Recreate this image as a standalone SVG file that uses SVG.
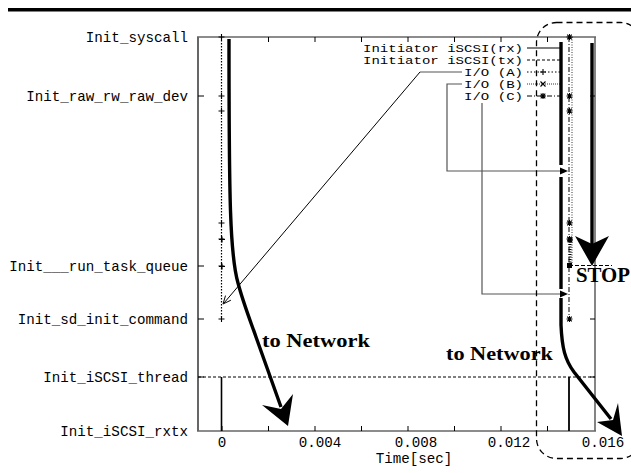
<svg xmlns="http://www.w3.org/2000/svg" width="631" height="473" viewBox="0 0 631 473">
<style>
.m{font-family:"Liberation Mono","DejaVu Sans Mono",monospace;font-size:14.2px;fill:#000}
.lg{font-family:"Liberation Mono","DejaVu Sans Mono",monospace;font-size:11.6px;fill:#000}
.b{font-family:"Liberation Serif","DejaVu Serif",serif;font-weight:bold;fill:#000}
.ax{stroke:#666;stroke-width:1.6;fill:none}
.tk{stroke:#000;stroke-width:1;fill:none}
.thick{stroke:#000;stroke-width:3.4;fill:none}
.lead{stroke:#555;stroke-width:1.2;fill:none}
.mk{stroke:#000;stroke-width:1.1;fill:none}
</style>
<defs>
<g id="plus"><path class="mk" d="M-3,0H3M0,-3V3"/></g>
<g id="cross"><path class="mk" d="M-2.5,-2.5L2.5,2.5M-2.5,2.5L2.5,-2.5"/></g>
<g id="star"><path class="mk" d="M-3,0H3M0,-3V3M-2.3,-2.3L2.3,2.3M-2.3,2.3L2.3,-2.3"/></g>
</defs>

<rect x="8" y="8" width="623" height="3.5" fill="#000"/>

<g id="axes">
<line x1="198" y1="37" x2="198" y2="431" stroke="#000" stroke-width="1.2"/>
<line class="ax" x1="197" y1="37" x2="596" y2="37"/>
<line class="ax" x1="197" y1="431" x2="596" y2="431"/>
<line class="ax" x1="595" y1="37" x2="595" y2="431"/>
<path class="tk" d="M198,96h6M198,266h6M198,319h6M198,377h6M595,96h-5M595,319h-5M595,377h-5"/>
<path class="tk" d="M268.5,37v5M315,37v5M361.5,37v5M408,37v5M454.5,37v5M501,37v5M547.5,37v5"/>
<path class="tk" d="M222,431v-5M268.5,431v-5M315,431v-5M361.5,431v-5M408,431v-5M454.5,431v-5M501,431v-5M547.5,431v-5"/>
</g>

<g id="ylabels" class="m" text-anchor="end">
<text x="188" y="42">Init_syscall</text>
<text x="188" y="101">Init_raw_rw_raw_dev</text>
<text x="188" y="271">Init___run_task_queue</text>
<text x="188" y="324">Init_sd_init_command</text>
<text x="188" y="382">Init_iSCSI_thread</text>
<text x="188" y="436">Init_iSCSI_rxtx</text>
</g>

<g id="xlabels" class="m" text-anchor="middle">
<text x="222" y="447">0</text>
<text x="320" y="447">0.004</text>
<text x="416" y="447">0.008</text>
<text x="509" y="447">0.012</text>
<text x="603" y="447">0.016</text>
<text x="414" y="463">Time[sec]</text>
</g>

<g id="legend">
<g class="lg">
<text x="363" y="52" textLength="160" lengthAdjust="spacingAndGlyphs">Initiator iSCSI(rx)</text>
<text x="363" y="64" textLength="160" lengthAdjust="spacingAndGlyphs">Initiator iSCSI(tx)</text>
<text x="464" y="76" textLength="59" lengthAdjust="spacingAndGlyphs">I/O (A)</text>
<text x="464" y="88" textLength="59" lengthAdjust="spacingAndGlyphs">I/O (B)</text>
<text x="464" y="100" textLength="59" lengthAdjust="spacingAndGlyphs">I/O (C)</text>
</g>
<line x1="527" y1="48" x2="560" y2="48" stroke="#000" stroke-width="1.2"/>
<line x1="527" y1="60" x2="560" y2="60" stroke="#000" stroke-width="1" stroke-dasharray="3,2"/>
<line x1="527" y1="72" x2="560" y2="72" stroke="#000" stroke-width="1" stroke-dasharray="1.5,2"/>
<line x1="527" y1="84" x2="560" y2="84" stroke="#000" stroke-width="0.8" stroke-dasharray="1,1"/>
<line x1="527" y1="96" x2="560" y2="96" stroke="#000" stroke-width="1" stroke-dasharray="5,2,1,2"/>
<use href="#plus" x="543" y="72"/>
<use href="#cross" x="543" y="84"/>
<use href="#star" x="543" y="96"/>
</g>

<g id="data">
<line x1="198" y1="377" x2="595" y2="377" stroke="#000" stroke-width="1" stroke-dasharray="3,2"/>
<line x1="221.5" y1="377" x2="221.5" y2="431" stroke="#000" stroke-width="1.6"/>
<line x1="569" y1="377" x2="569" y2="431" stroke="#000" stroke-width="1.8"/>
<line x1="221.5" y1="37" x2="221.5" y2="319" stroke="#000" stroke-width="1.2" stroke-dasharray="1.5,1.5"/>
<line x1="569" y1="37" x2="569" y2="319" stroke="#000" stroke-width="1" stroke-dasharray="5,2,1,2"/>
<line x1="572" y1="37" x2="572" y2="266" stroke="#000" stroke-width="0.8" stroke-dasharray="1,1.5"/>
<line x1="570" y1="239" x2="570" y2="266" stroke="#000" stroke-width="3" stroke-dasharray="1,1.5"/>
<use href="#plus" x="221.5" y="37"/><use href="#plus" x="221.5" y="96"/><use href="#plus" x="221.5" y="111"/>
<use href="#plus" x="221.5" y="223"/><use href="#plus" x="221.5" y="239"/><use href="#plus" x="222" y="239.5"/>
<use href="#plus" x="221.5" y="266"/><use href="#plus" x="222" y="266.5"/><use href="#plus" x="221.5" y="319"/>
<use href="#star" x="569.5" y="37"/><use href="#star" x="569.5" y="96"/><use href="#star" x="569.5" y="111"/>
<use href="#star" x="569.5" y="223"/><use href="#star" x="569.5" y="239"/><use href="#star" x="570" y="240"/>
<rect x="567" y="263" width="5" height="5" fill="#000"/>
<use href="#star" x="569.5" y="319"/>
</g>

<g id="connectors">
<path class="thick" stroke-width="4" d="M229,39 C229,200 230,255 238,283 C243,302 250,320 256,337 L281,407"/>
<polygon points="288,426 262,405 281,409 293,394" fill="#000"/>
<line class="thick" x1="561" y1="42" x2="561" y2="165"/>
<line class="thick" x1="561" y1="177" x2="561" y2="289"/>
<path class="thick" d="M561,298 L561,325 C562,348 565,360 574,372 L611,419"/>
<polygon points="622,436 597,422 613,420 618,403" fill="#000"/>
<line class="thick" x1="592" y1="43" x2="592" y2="246"/>
<polygon points="592,266 575,236 592,244 609,236" fill="#000"/>
<line x1="569" y1="265.5" x2="612" y2="265.5" stroke="#000" stroke-width="1.2" stroke-dasharray="4,2"/>
<polyline class="lead" points="462,72 420,72"/>
<line x1="420" y1="72" x2="224" y2="303" stroke="#000" stroke-width="1"/>
<path d="M230.9,300.2 L223,304 L225.5,295.6" stroke="#000" stroke-width="1" fill="none"/>
<polyline class="lead" points="462,84 447,84 447,171 561,171"/>
<polygon points="568,171 560,167.5 560,174.5" fill="#000"/>
<polyline class="lead" points="482,103 482,294 561,294"/>
<polygon points="568,294 560,290.5 560,297.5" fill="#000"/>
<rect x="536.5" y="22.5" width="104" height="436" rx="20" fill="none" stroke="#000" stroke-width="1.3" stroke-dasharray="6,4"/>
</g>

<g id="annotations">
<text class="b" x="262" y="347" font-size="19" textLength="108" lengthAdjust="spacingAndGlyphs">to Network</text>
<text class="b" x="446" y="360" font-size="19" textLength="107" lengthAdjust="spacingAndGlyphs">to Network</text>
<text class="b" x="576" y="282" font-size="20" textLength="54" lengthAdjust="spacingAndGlyphs">STOP</text>
</g>
</svg>
